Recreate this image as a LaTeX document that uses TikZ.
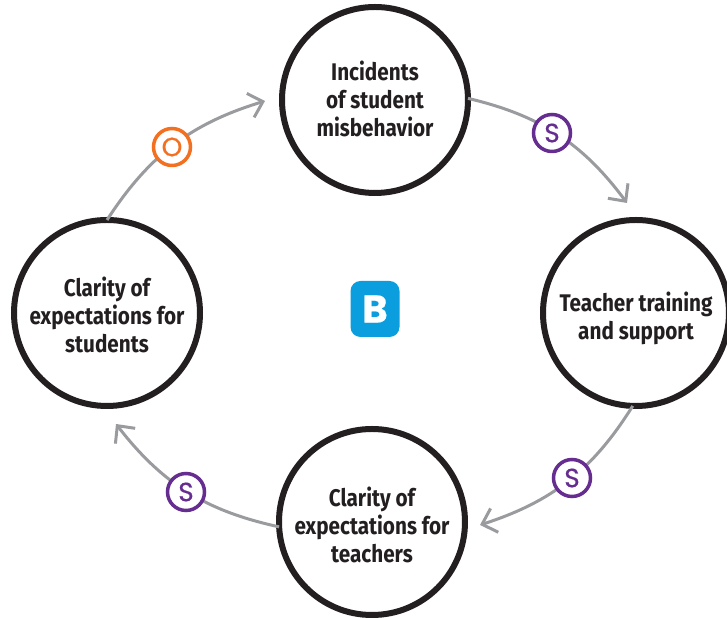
\documentclass[tikz,border=0pt]{standalone}
\usepackage{fontspec}
\usepackage{xcolor}
\setmainfont{Fira Sans}[FakeStretch=0.86]
\newfontfamily\badgefont{Poppins}[FakeBold=0.6]
\usetikzlibrary{arrows.meta}
\definecolor{ringblack}{HTML}{231F20}
\definecolor{arrowgray}{HTML}{999B9E}
\definecolor{samepurple}{HTML}{662D91}
\definecolor{opporange}{HTML}{F37021}
\definecolor{loopblue}{HTML}{0B9EDE}
\tikzset{
    factor/.style={circle, draw=ringblack, line width=0.12cm, fill=white, minimum size=3.72cm, inner sep=0pt, outer sep=0pt, align=center, font=\fontsize{13.7}{16}\selectfont\bfseries, text=ringblack},
    link/.style={draw=arrowgray, line width=0.06cm, -{Straight Barb[length=0.26cm, width=0.5cm]}},
    badge/.style={circle, line width=0.07cm, fill=white, minimum size=0.74cm, inner sep=0pt, font=\fontsize{15}{16}\selectfont\badgefont},
    samebadge/.style={badge, draw=samepurple, text=samepurple},
    oppbadge/.style={badge, draw=opporange, text=opporange}
}

\begin{document}
\begin{tikzpicture}
    \clip (0,0) rectangle (14.54,12.36);
    \useasboundingbox (0,0) rectangle (14.54,12.36);

    % Factors
    \node[factor] (incidents) at (7.5,10.36) {\rule{0pt}{14.6pt}Incidents\\of student\\misbehavior\strut};
    \node[factor] (training) at (12.72,6.1) {\rule{0pt}{19pt}Teacher training\\and support\strut};
    \node[factor] (teachers) at (7.44,1.92) {\rule{0pt}{19pt}Clarity of\\expectations for\\teachers\strut};
    \node[factor] (students) at (2.14,6.1) {\rule{0pt}{18pt}Clarity of\\expectations for\\students\strut};

    % Arrow tips
    \coordinate (tiptraining) at (12.54,8.3);
    \coordinate (tipteachers) at (9.6,1.86);
    \coordinate (tipstudents) at (2.32,3.88);
    \coordinate (tipincidents) at (5.3,10.34);

    % Links
    \draw[link] (incidents.1) to[bend left=20] (tiptraining);
    \draw[link] (training.-92) to[bend left=20] (tipteachers);
    \draw[link] (teachers.183) to[bend left=20] (tipstudents);
    \draw[link] (students.90) to[bend left=20] (tipincidents);

    % Badges
    \node[samebadge] (badgeone) at (11.04,9.7) {S};
    \node[samebadge] (badgetwo) at (11.44,2.8) {S};
    \node[samebadge] (badgethree) at (3.72,2.52) {S};
    \node[oppbadge] (badgefour) at (3.44,9.42) {O};

    % Loop type
    \node[fill=loopblue, rounded corners=0.2cm, minimum width=0.98cm, minimum height=1.12cm, inner sep=0pt, text=white, font=\fontsize{22}{24}\selectfont\badgefont\bfseries] (looptype) at (7.5,6.18) {B};
\end{tikzpicture}
\end{document}
